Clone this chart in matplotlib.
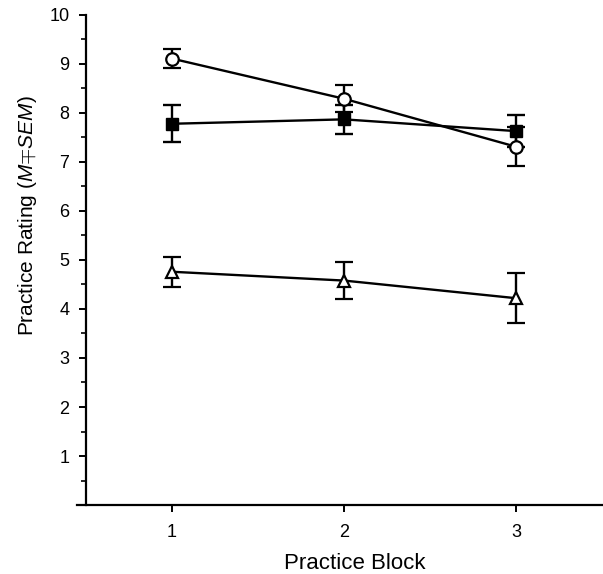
import matplotlib
matplotlib.use("Agg")
import matplotlib.pyplot as plt
from matplotlib.ticker import MultipleLocator

plt.rcParams['font.family'] = ['Liberation Sans', 'DejaVu Sans']
plt.rcParams['mathtext.fontset'] = 'custom'
plt.rcParams['mathtext.rm'] = 'Liberation Sans'
plt.rcParams['mathtext.it'] = 'Liberation Sans:italic'

blocks = [1, 2, 3]
circle_mean = [9.11, 8.29, 7.31]
circle_sem = [0.20, 0.28, 0.40]
square_mean = [7.78, 7.87, 7.63]
square_sem = [0.38, 0.29, 0.33]
triangle_mean = [4.76, 4.58, 4.22]
triangle_sem = [0.31, 0.38, 0.51]

fig = plt.figure(figsize=(6.03, 5.74), dpi=100)
ax = fig.add_axes([0.1277, 0.1202, 0.8723, 0.8537])

common = dict(color='black', linewidth=1.7, elinewidth=1.7, capsize=6.5,
              capthick=1.7, clip_on=False)
ax.errorbar(blocks, square_mean, yerr=square_sem, marker='s', markersize=9,
            markerfacecolor='black', markeredgecolor='black', zorder=3, **common)
ax.errorbar(blocks, circle_mean, yerr=circle_sem, marker='o', markersize=9,
            markerfacecolor='white', markeredgecolor='black', markeredgewidth=1.6,
            zorder=4, **common)
ax.errorbar(blocks, triangle_mean, yerr=triangle_sem, marker='^', markersize=9,
            markerfacecolor='white', markeredgecolor='black', markeredgewidth=1.6,
            zorder=4, **common)

ax.set_xlim(0.448, 3.504)
ax.set_ylim(0, 10)
ax.spines['left'].set_position(('data', 0.5))
ax.spines['top'].set_visible(False)
ax.spines['right'].set_visible(False)
for s in ('left', 'bottom'):
    ax.spines[s].set_linewidth(1.6)

ax.set_xticks(blocks)
ax.set_yticks(range(1, 11))
ax.yaxis.set_minor_locator(MultipleLocator(0.5))
ax.tick_params(axis='y', which='major', length=5, width=1.4, pad=7, labelsize=13)
ax.tick_params(axis='y', which='minor', length=3.6, width=1.2)
ax.tick_params(axis='x', which='major', length=5, width=1.4, pad=8.5, labelsize=13)

ax.set_xlabel('Practice Block', fontsize=16)
ax.set_ylabel(r'Practice Rating ($\mathit{M}$$\mp$$\mathit{SEM}$)', fontsize=15)
ax.xaxis.set_label_coords(0.528, -0.097)
ax.yaxis.set_label_coords(-0.072, 0.59)

fig.savefig('out.png', dpi=100)
